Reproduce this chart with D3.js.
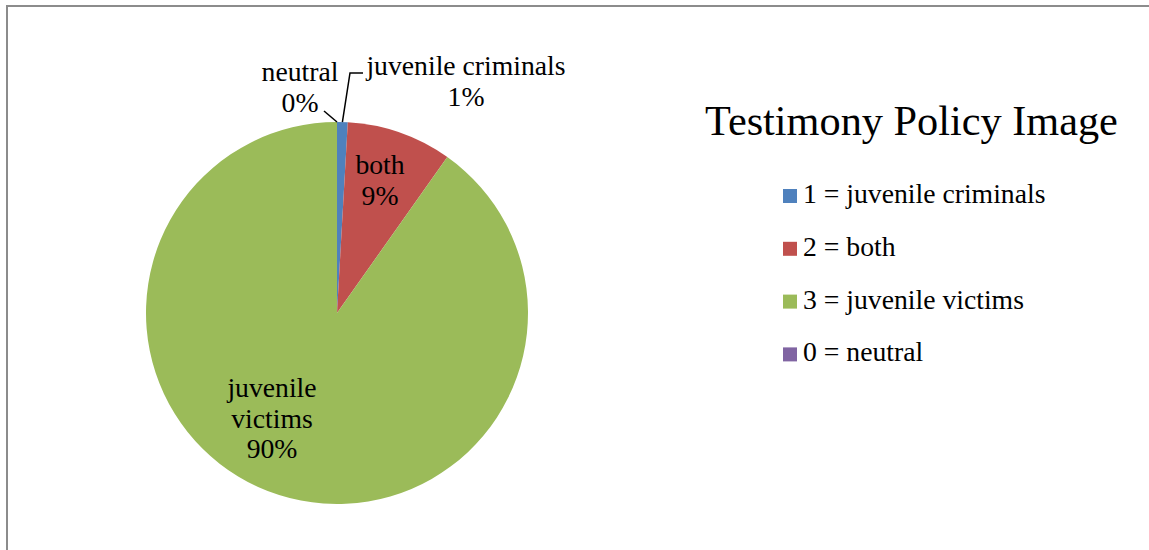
<!DOCTYPE html>
<html>
<head>
<meta charset="utf-8">
<script src="https://cdn.jsdelivr.net/npm/d3@7"></script>
<style>
  html, body { margin: 0; padding: 0; background: #fff; }
  svg { display: block; }
</style>
</head>
<body>
<svg id="chart" width="1149" height="550"></svg>
<script>
// Share of testimony by policy image (percent)
const categories = ["juvenile criminals", "both", "juvenile victims", "neutral"];
const codes = [1, 2, 3, 0];
const values = [0.9, 8.9, 90.2, 0];
const colors = ["#4F81BD", "#C0504D", "#9BBB59", "#8064A2"];
const title = "Testimony Policy Image";

const fontFamily = "'Liberation Serif', Tinos, 'DejaVu Serif', 'Times New Roman', serif";
const svg = d3.select("#chart").attr("font-family", fontFamily).style("font-family", fontFamily);

// frame around the chart area
svg.append("path")
  .attr("d", "M7,550 V6 H1149")
  .attr("fill", "none")
  .attr("stroke", "#8c8c8c")
  .attr("stroke-width", 2);

const cx = 337, cy = 313, r = 191;
const g = svg.append("g").attr("transform", `translate(${cx},${cy})`);

const data = categories.map((c, i) => ({ name: c, code: codes[i], value: values[i], color: colors[i] }));
const pie = d3.pie().sort(null).value(d => d.value).startAngle(0).endAngle(2 * Math.PI);
const arcs = pie(data);
const arc = d3.arc().innerRadius(0).outerRadius(r);

g.selectAll("path.slice")
  .data(arcs)
  .join("path")
  .attr("class", "slice")
  .attr("d", arc)
  .attr("fill", d => d.data.color);

const pct = d => Math.round(d.value) + "%";
const fs = 27.7, lh = 30.5;

// label placement: offsets from pie centre for the text block's first baseline
const labelLayout = {
  "juvenile criminals": { x: 129, y: -238, lines: ["juvenile criminals"], leader: [[13, -240], [26, -240]] },
  "both": { x: 43, y: -139, lines: ["both"] },
  "juvenile victims": { x: -65, y: 84, lines: ["juvenile", "victims"] },
  "neutral": { x: -37, y: -232, lines: ["neutral"], leader: [[-13, -202]] }
};

const labels = g.append("g").attr("font-size", fs).attr("fill", "#000").attr("text-anchor", "middle");
arcs.forEach(a => {
  const L = labelLayout[a.data.name];
  const t = labels.append("text").attr("x", L.x).attr("y", L.y);
  const lines = L.lines.concat([pct(a.data)]);
  lines.forEach((s, i) => {
    t.append("tspan").attr("x", L.x).attr("dy", i === 0 ? 0 : lh).text(s);
  });
  if (L.leader) {
    const mid = (a.startAngle + a.endAngle) / 2;
    const p0 = [r * Math.sin(mid), -r * Math.cos(mid)];
    const pts = [p0].concat(L.leader);
    g.append("path")
      .attr("d", d3.line()(pts))
      .attr("fill", "none")
      .attr("stroke", "#000")
      .attr("stroke-width", 1.5);
  }
});

// title
svg.append("text")
  .attr("x", 705).attr("y", 135)
  .attr("font-size", 42.3)
  .text(title);

// legend
const legend = svg.append("g").attr("transform", "translate(783,189)");
const rowH = 52.8;
data.forEach((d, i) => {
  const row = legend.append("g").attr("transform", `translate(0,${i * rowH})`);
  row.append("rect").attr("width", 14).attr("height", 14).attr("fill", d.color);
  row.append("text").attr("x", 20).attr("y", 14).attr("font-size", fs)
    .text(`${d.code} = ${d.name}`);
});
</script>
</body>
</html>
